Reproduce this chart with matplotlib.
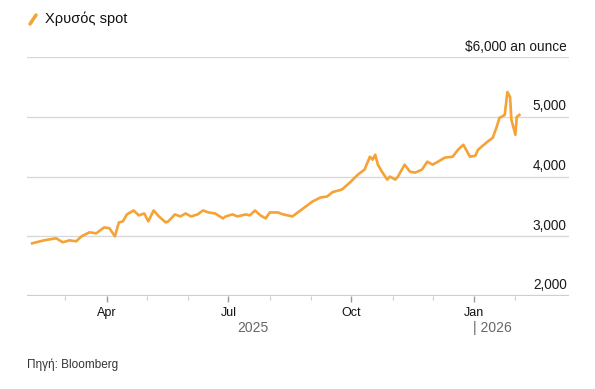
''' Χρυσός spot, τιμή ανά ουγγιά '''
import numpy as np
import pandas as pd
import matplotlib
matplotlib.use("Agg")
import matplotlib.pyplot as plt
import matplotlib.transforms as mtransforms

plt.rcParams['font.family'] = ['Liberation Sans', 'DejaVu Sans']

# τιμές που διαβάστηκαν από το γράφημα
dates = ["2025-02-04", "2025-02-13", "2025-02-22", "2025-02-27", "2025-03-04", "2025-03-09",
         "2025-03-13", "2025-03-19", "2025-03-24", "2025-03-30", "2025-04-03", "2025-04-07",
         "2025-04-10", "2025-04-13", "2025-04-16", "2025-04-21", "2025-04-25", "2025-04-29",
         "2025-05-02", "2025-05-06", "2025-05-10", "2025-05-15", "2025-05-17", "2025-05-22",
         "2025-05-26", "2025-05-30", "2025-06-03", "2025-06-08", "2025-06-12", "2025-06-16",
         "2025-06-21", "2025-06-27", "2025-06-29", "2025-07-04", "2025-07-08", "2025-07-14",
         "2025-07-17", "2025-07-21", "2025-07-25", "2025-07-29", "2025-08-01", "2025-08-07",
         "2025-08-11", "2025-08-18", "2025-08-22", "2025-08-27", "2025-09-02", "2025-09-08",
         "2025-09-13", "2025-09-17", "2025-09-24", "2025-09-30", "2025-10-06", "2025-10-11",
         "2025-10-15", "2025-10-17", "2025-10-19", "2025-10-21", "2025-10-24", "2025-10-28",
         "2025-10-30", "2025-11-03", "2025-11-05", "2025-11-10", "2025-11-14", "2025-11-18",
         "2025-11-23", "2025-11-27", "2025-12-01", "2025-12-05", "2025-12-10", "2025-12-16",
         "2025-12-20", "2025-12-24", "2025-12-29", "2026-01-02", "2026-01-04", "2026-01-11",
         "2026-01-15", "2026-01-18", "2026-01-20", "2026-01-24", "2026-01-26", "2026-01-28",
         "2026-01-29", "2026-02-01", "2026-02-02", "2026-02-04"]
prices = [2883, 2933, 2967, 2900, 2933, 2917,
          3000, 3067, 3050, 3150, 3133, 3000,
          3233, 3250, 3367, 3433, 3350, 3383,
          3250, 3433, 3333, 3233, 3250, 3367,
          3333, 3383, 3333, 3367, 3433, 3400,
          3383, 3300, 3333, 3367, 3333, 3367,
          3350, 3433, 3350, 3300, 3400, 3400,
          3367, 3333, 3400, 3483, 3583, 3650,
          3667, 3740, 3783, 3900, 4033, 4117,
          4333, 4283, 4367, 4200, 4083, 3950,
          4000, 3950, 4000, 4200, 4083, 4067,
          4117, 4250, 4200, 4250, 4317, 4333,
          4450, 4533, 4333, 4350, 4450, 4583,
          4650, 4833, 4983, 5033, 5417, 5333,
          4950, 4700, 5000, 5033]

y_ticks = [2000, 3000, 4000, 5000, 6000]
y_labels = ["2,000", "3,000", "4,000", "5,000", "$6,000 an ounce"]
month_labels = ["Apr", "Jul", "Oct", "Jan"]
major_months = ["2025-04-01", "2025-07-01", "2025-10-01", "2026-01-01"]
all_months = pd.date_range("2025-03-01", "2026-02-01", freq="MS")

x = pd.to_datetime(dates)
orange = "#F5A236"

fig = plt.figure(figsize=(5.95, 3.89), dpi=100)
ax = fig.add_axes([0.045, 0.239, 0.911, 0.614])

ax.plot(x, prices, color=orange, lw=1.9, solid_joinstyle="round")

ax.set_xlim(pd.Timestamp("2025-01-31"), pd.Timestamp("2026-03-13"))
ax.set_ylim(2000, 6000)

# οριζόντιες γραμμές πλέγματος
for v in y_ticks[1:]:
    ax.axhline(v, color="#d9d9d9", lw=1, zorder=0)
ax.axhline(2000, color="#cfcfcf", lw=1.6, zorder=0)

trans = mtransforms.blended_transform_factory(ax.transAxes, ax.transData)
for v, lab in zip(y_ticks, y_labels):
    ax.text(0.996, v + 60, lab, transform=trans, ha="right", va="bottom",
            fontsize=9.8, color="#1a1a1a")

for s in ax.spines.values():
    s.set_visible(False)
ax.set_yticks([])

ax.set_xticks(pd.to_datetime(major_months))
ax.set_xticklabels(month_labels)
ax.set_xticks(all_months, minor=True)
ax.tick_params(axis="x", which="major", length=4, width=1, color="#999999",
               labelsize=9, labelcolor="#111111", pad=4)
ax.tick_params(axis="x", which="minor", length=3, width=0.8, color="#cccccc")

# ετικέτες ετών
tx = mtransforms.blended_transform_factory(ax.transData, fig.transFigure)
ax.text(pd.Timestamp("2025-07-19"), 1 - 328 / 389, "2025", transform=tx,
        ha="center", va="center", fontsize=10, color="#666666")
ax.text(pd.Timestamp("2025-12-31"), 1 - 328 / 389, "| 2026", transform=tx,
        ha="left", va="center", fontsize=10, color="#666666")

# υπόμνημα
fig.add_artist(plt.Line2D([30 / 595, 36 / 595], [1 - 24 / 389, 1 - 15 / 389],
                          color=orange, lw=2.5, solid_capstyle="round"))
fig.text(45 / 595, 1 - 19 / 389, "Χρυσός spot", fontsize=10.5, va="center",
         color="#111111")

fig.text(27 / 595, 1 - 365 / 389, "Πηγή: Bloomberg", fontsize=8.5, va="center",
         color="#333333")

plt.savefig("out.png", dpi=100)
